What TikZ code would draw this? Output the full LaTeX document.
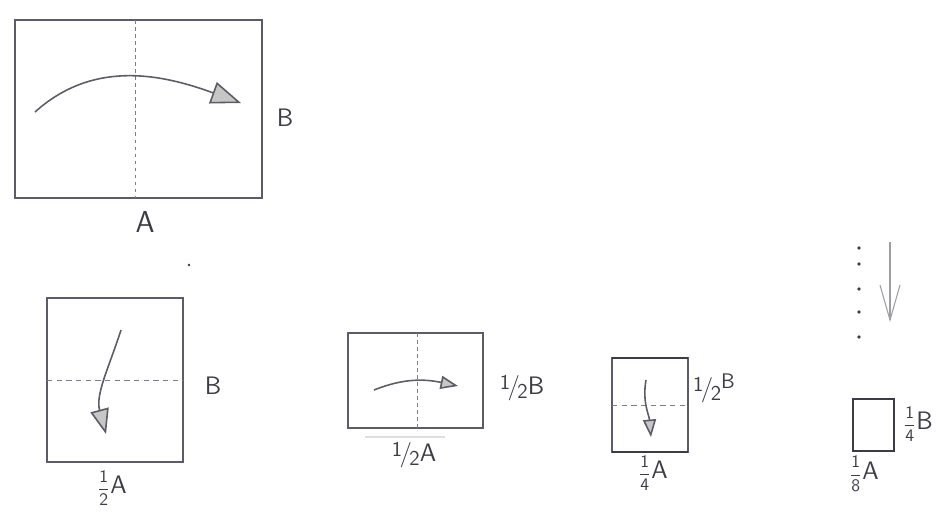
\documentclass[tikz,border=0pt]{standalone}
\usepackage{amsmath}
\usepackage{xcolor}
\usepackage{tikz}
\usetikzlibrary{arrows.meta, positioning}

\definecolor{pencil}{RGB}{92,92,104}
\definecolor{lead}{RGB}{60,60,70}

% slashed and stacked fractions as written by hand
\newcommand{\slfrac}[2]{\raisebox{0.45ex}{\large #1}\kern-0.1em/\kern-0.1em\raisebox{-0.35ex}{\large #2}}
\newcommand{\stfrac}[2]{{\normalsize$\dfrac{\textsf{#1}}{\textsf{#2}}$}}

\begin{document}
\begin{tikzpicture}[
        x=0.02cm, y=-0.02cm,
        sheet/.style={rectangle, draw=pencil, line width=0.8pt, inner sep=0pt, outer sep=0pt, minimum width=#1},
        crease/.style={draw=pencil!80, line width=0.5pt, dash pattern=on 3pt off 2.5pt},
        flip/.style={-{Triangle[length=#1, width=#1*0.75, fill=gray!45]}, draw=pencil, line width=0.9pt},
        lbl/.style={text=lead, font=\Large\sffamily, inner sep=1pt},
        dot/.style={circle, fill=lead, inner sep=0pt, minimum size=2.2pt}
    ]
        \useasboundingbox (0,0) rectangle (942,512);

        % Sheet A x B
        \node[sheet=4.94cm, minimum height=3.56cm] (s1) at (138.5,109) {};
        \draw[crease, dash pattern=on 2pt off 2pt] (s1.north) ++(-3,0) coordinate (f1t) -- (f1t |- s1.south);
        \coordinate (a1s) at (35,112);
        \coordinate (a1e) at (241,103);
        \draw[flip=6mm] (a1s) to[out=42, in=160] (a1e);
        \node[lbl] (b1) at (285,118) {B};
        \node[lbl, font=\LARGE\sffamily] (w1) at (145,222) {A};
        \node[dot, minimum size=1.6pt] (spot) at (189,265) {};

        % Sheet 1/2 A x B
        \node[sheet=2.72cm, minimum height=3.28cm] (s2) at (115,380) {};
        \draw[crease] (s2.west) -- (s2.east);
        \coordinate (a2s) at (121,330);
        \coordinate (a2e) at (106,434);
        \draw[flip=5mm] (a2s) to[out=-108, in=105] (a2e);
        \node[lbl] (b2) at (213,386) {B};
        \node[lbl] (w2) at (112,488) {\stfrac{1}{2}A};

        % Sheet 1/2 A x 1/2 B
        \node[sheet=2.7cm, minimum height=1.9cm, line width=1.2pt] (s3) at (415.5,380.5) {};
        \draw[crease, dash pattern=on 2pt off 2pt] (s3.north) ++(2,0) coordinate (f3t) -- (f3t |- s3.south);
        \coordinate (a3s) at (374,390);
        \coordinate (a3e) at (458,386);
        \draw[flip=3.5mm] (a3s) to[out=22, in=168] (a3e);
        \draw[gray!25, line width=0.6pt] (365,437) -- (445,437);
        \node[lbl] (b3) at (522,388) {\slfrac{1}{2}B};
        \node[lbl] (w3) at (414,455) {\slfrac{1}{2}A};

        % Sheet 1/4 A x 1/2 B
        \node[sheet=1.52cm, minimum height=1.88cm] (s4) at (650,405) {};
        \draw[lead, line width=1.3pt] (s4.north west) -- (s4.north east);
        \draw[lead, line width=1.3pt] (s4.south west) -- (s4.south east);
        \draw[crease] (s4.west) -- (s4.east);
        \coordinate (a4s) at (646,380);
        \coordinate (a4e) at (651,437);
        \draw[flip=3.5mm] (a4s) to[out=-100, in=95] (a4e);
        \node[lbl] (b4) at (714,388) {\slfrac{1}{2}\raisebox{0.7ex}{\large B}};
        \node[lbl] (w4) at (653,473) {\stfrac{1}{4}A};

        % and so on
        \foreach \dy [count=\i] in {248,264,289,312,337}
            \node[dot] (d\i) at (859,\dy) {};
        \coordinate (gs) at (890,242);
        \coordinate (ge) at (890,322);
        \draw[-{Straight Barb[length=7mm, width=4mm]}, draw=pencil!60, line width=0.6pt] (gs) -- (ge);

        % Sheet 1/8 A x 1/4 B
        \node[sheet=0.82cm, minimum height=1.04cm, draw=lead, line width=1pt] (s5) at (873.5,425) {};
        \node[lbl] (b5) at (918,424) {\stfrac{1}{4}B};
        \node[lbl] (w5) at (864,474) {\stfrac{1}{8}A};
    \end{tikzpicture}
\end{document}
